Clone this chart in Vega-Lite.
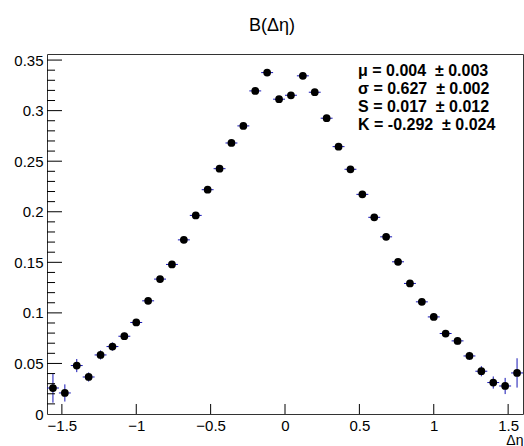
{
  "$schema": "https://vega.github.io/schema/vega-lite/v6.json",
  "autosize": {"type": "none"},
  "padding": {"left": 47, "top": 54, "right": 1, "bottom": 32},
  "width": 476,
  "height": 360,
  "background": "white",
  "config": {
    "font": "Liberation Sans",
    "view": {"stroke": "#333", "strokeWidth": 1},
    "axis": {"grid": false, "ticks": false, "domain": false, "labelColor": "#000", "titleColor": "#000", "labelFont": "Liberation Sans", "titleFont": "Liberation Sans", "labelOverlap": false, "labelBound": false}
  },
  "title": {"text": "B(Δη)", "fontSize": 18, "fontWeight": "normal", "font": "Liberation Sans", "color": "#000", "anchor": "middle", "dx": -13, "offset": 18},
  "resolve": {"axis": {"x": "independent", "y": "independent"}},
  "datasets": {
    "bins": [
      {"x": -1.56, "y": 0.0257, "ey": 0.0145, "ex": 0.04},
      {"x": -1.48, "y": 0.0208, "ey": 0.0085, "ex": 0.04},
      {"x": -1.40, "y": 0.0479, "ey": 0.0065, "ex": 0.04},
      {"x": -1.32, "y": 0.0366, "ey": 0.0045, "ex": 0.04},
      {"x": -1.24, "y": 0.0584, "ey": 0.0045, "ex": 0.04},
      {"x": -1.16, "y": 0.0667, "ey": 0.004, "ex": 0.04},
      {"x": -1.08, "y": 0.0769, "ey": 0.0035, "ex": 0.04},
      {"x": -1.00, "y": 0.0905, "ey": 0.003, "ex": 0.04},
      {"x": -0.92, "y": 0.1119, "ey": 0.003, "ex": 0.04},
      {"x": -0.84, "y": 0.1334, "ey": 0.003, "ex": 0.04},
      {"x": -0.76, "y": 0.1479, "ey": 0.003, "ex": 0.04},
      {"x": -0.68, "y": 0.1722, "ey": 0.003, "ex": 0.04},
      {"x": -0.60, "y": 0.1964, "ey": 0.003, "ex": 0.04},
      {"x": -0.52, "y": 0.2218, "ey": 0.003, "ex": 0.04},
      {"x": -0.44, "y": 0.2426, "ey": 0.003, "ex": 0.04},
      {"x": -0.36, "y": 0.2680, "ey": 0.003, "ex": 0.04},
      {"x": -0.28, "y": 0.2849, "ey": 0.003, "ex": 0.04},
      {"x": -0.20, "y": 0.3195, "ey": 0.003, "ex": 0.04},
      {"x": -0.12, "y": 0.3376, "ey": 0.003, "ex": 0.04},
      {"x": -0.04, "y": 0.3113, "ey": 0.003, "ex": 0.04},
      {"x": 0.04, "y": 0.3152, "ey": 0.003, "ex": 0.04},
      {"x": 0.12, "y": 0.3344, "ey": 0.003, "ex": 0.04},
      {"x": 0.20, "y": 0.3182, "ey": 0.003, "ex": 0.04},
      {"x": 0.28, "y": 0.2925, "ey": 0.003, "ex": 0.04},
      {"x": 0.36, "y": 0.2644, "ey": 0.003, "ex": 0.04},
      {"x": 0.44, "y": 0.2420, "ey": 0.003, "ex": 0.04},
      {"x": 0.52, "y": 0.2172, "ey": 0.003, "ex": 0.04},
      {"x": 0.60, "y": 0.1945, "ey": 0.003, "ex": 0.04},
      {"x": 0.68, "y": 0.1752, "ey": 0.003, "ex": 0.04},
      {"x": 0.76, "y": 0.1505, "ey": 0.003, "ex": 0.04},
      {"x": 0.84, "y": 0.1291, "ey": 0.003, "ex": 0.04},
      {"x": 0.92, "y": 0.1109, "ey": 0.003, "ex": 0.04},
      {"x": 1.00, "y": 0.0960, "ey": 0.003, "ex": 0.04},
      {"x": 1.08, "y": 0.0796, "ey": 0.003, "ex": 0.04},
      {"x": 1.16, "y": 0.0723, "ey": 0.0035, "ex": 0.04},
      {"x": 1.24, "y": 0.0574, "ey": 0.004, "ex": 0.04},
      {"x": 1.32, "y": 0.0423, "ey": 0.005, "ex": 0.04},
      {"x": 1.40, "y": 0.0311, "ey": 0.006, "ex": 0.04},
      {"x": 1.48, "y": 0.0277, "ey": 0.008, "ex": 0.04},
      {"x": 1.56, "y": 0.0406, "ey": 0.0145, "ex": 0.04}
    ],
    "yMajor": [{"t": 0.05}, {"t": 0.1}, {"t": 0.15}, {"t": 0.2}, {"t": 0.25}, {"t": 0.3}, {"t": 0.35}],
    "yMinor": [{"t": 0.01},{"t": 0.02},{"t": 0.03},{"t": 0.04},{"t": 0.06},{"t": 0.07},{"t": 0.08},{"t": 0.09},{"t": 0.11},{"t": 0.12},{"t": 0.13},{"t": 0.14},{"t": 0.16},{"t": 0.17},{"t": 0.18},{"t": 0.19},{"t": 0.21},{"t": 0.22},{"t": 0.23},{"t": 0.24},{"t": 0.26},{"t": 0.27},{"t": 0.28},{"t": 0.29},{"t": 0.31},{"t": 0.32},{"t": 0.33},{"t": 0.34}],
    "xMajor": [{"t": -1.5}, {"t": -1}, {"t": -0.5}, {"t": 0}, {"t": 0.5}, {"t": 1}, {"t": 1.5}]
  },
  "layer": [
    {
      "data": {"name": "bins"},
      "mark": {"type": "errorbar", "ticks": false, "color": "#1414b4", "thickness": 1},
      "encoding": {
        "x": {"field": "x", "type": "quantitative", "scale": {"domain": [-1.6, 1.6], "nice": false, "zero": false},
          "axis": {"orient": "bottom", "values": [-1.5, -1, -0.5, 0, 0.5, 1, 1.5], "format": ".1~f", "labelPadding": 4, "labelFontSize": 15, "title": "Δη", "titleFontSize": 14, "titleFontWeight": "normal", "titleAnchor": "end", "titlePadding": 0}},
        "y": {"field": "y", "type": "quantitative", "scale": {"domain": [0, 0.356], "nice": false},
          "axis": {"orient": "left", "values": [0, 0.05, 0.1, 0.15, 0.2, 0.25, 0.3, 0.35], "format": ".2~f", "labelPadding": 4, "labelFontSize": 15, "title": null}},
        "yError": {"field": "ey"}
      }
    },
    {
      "data": {"name": "bins"},
      "mark": {"type": "errorbar", "ticks": false, "color": "#1414b4", "thickness": 1, "orient": "horizontal"},
      "encoding": {
        "x": {"field": "x", "type": "quantitative", "axis": null},
        "y": {"field": "y", "type": "quantitative", "axis": null},
        "xError": {"field": "ex"}
      }
    },
    {
      "data": {"name": "bins"},
      "mark": {"type": "circle", "color": "#000", "opacity": 1, "size": 60},
      "encoding": {
        "x": {"field": "x", "type": "quantitative", "axis": null},
        "y": {"field": "y", "type": "quantitative", "axis": null}
      }
    },
    {
      "data": {"name": "yMajor"},
      "mark": {"type": "rule", "color": "#000", "strokeWidth": 1},
      "encoding": {
        "y": {"field": "t", "type": "quantitative", "axis": null},
        "x": {"datum": -1.6, "type": "quantitative", "axis": null},
        "x2": {"datum": -1.4992}
      }
    },
    {
      "data": {"name": "yMinor"},
      "mark": {"type": "rule", "color": "#000", "strokeWidth": 1},
      "encoding": {
        "y": {"field": "t", "type": "quantitative", "axis": null},
        "x": {"datum": -1.6, "type": "quantitative", "axis": null},
        "x2": {"datum": -1.546}
      }
    },
    {
      "data": {"name": "xMajor"},
      "mark": {"type": "rule", "color": "#000", "strokeWidth": 1},
      "encoding": {
        "x": {"field": "t", "type": "quantitative", "axis": null},
        "y": {"datum": 0, "type": "quantitative", "axis": null},
        "y2": {"datum": 0.0099}
      }
    },
    {
      "data": {"values": [{"stats": "stats"}]},
      "mark": {"type": "text", "align": "left", "baseline": "alphabetic", "fontSize": 16, "fontWeight": "bold", "lineHeight": 18, "color": "#000",
        "text": ["μ = 0.004 \u00a0± 0.003", "σ = 0.627 \u00a0± 0.002", "S = 0.017 \u00a0± 0.012", "K = -0.292 \u00a0± 0.024"]},
      "encoding": {
        "x": {"datum": 0.491, "type": "quantitative", "axis": null},
        "y": {"datum": 0.3344, "type": "quantitative", "axis": null}
      }
    }
  ]
}
